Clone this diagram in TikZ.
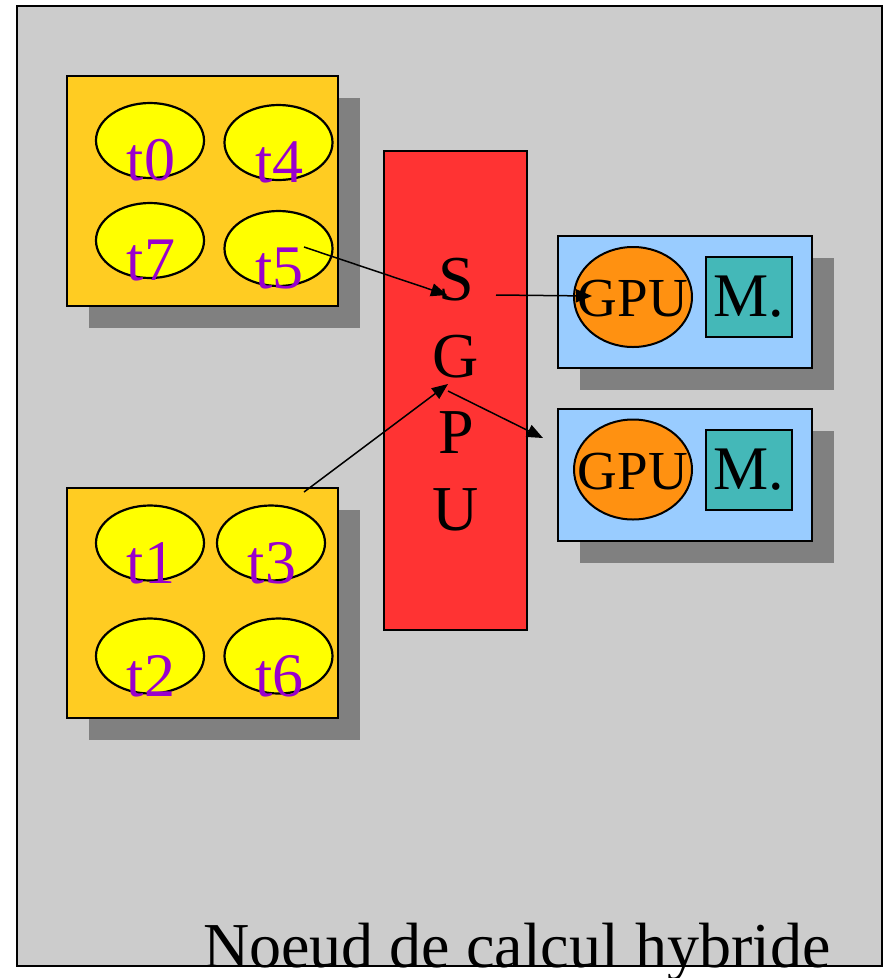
\documentclass[tikz,border=0pt]{standalone}
\usepackage{fontspec}
\setmainfont{Liberation Serif}
\usetikzlibrary{arrows.meta,shapes.geometric,shadows}
\definecolor{silver}{RGB}{204, 204, 204}
\definecolor{asbestos}{RGB}{128, 128, 128}
\definecolor{sunflower}{RGB}{255, 204, 34}
\definecolor{lemon}{RGB}{255, 255, 0}
\definecolor{amethyst}{RGB}{153, 0, 204}
\definecolor{cinnabar}{RGB}{255, 51, 51}
\definecolor{skyblue}{RGB}{153, 204, 255}
\definecolor{carrot}{RGB}{255, 145, 17}
\definecolor{teal}{RGB}{68, 184, 184}

\begin{document}
\begin{tikzpicture}[x=1pt, y=-1pt,
    shadowed/.style={drop shadow={shadow xshift=22pt, shadow yshift=-22pt, fill=asbestos, opacity=1}},
    tbox/.style={draw, line width=2pt, fill=sunflower, inner sep=0pt, minimum width=271pt, minimum height=230pt, shadowed},
    gbox/.style={draw, line width=2pt, fill=skyblue, inner sep=0pt, minimum width=254pt, minimum height=132pt, shadowed},
    thread/.style={draw, ellipse, line width=2.2pt, fill=lemon, inner sep=0pt, minimum width=108pt, minimum height=75pt},
    tlabel/.style={inner sep=0pt, text=amethyst, font=\fontsize{62}{62}\selectfont},
    gpu/.style={draw, ellipse, line width=2pt, fill=carrot, inner sep=0pt, minimum width=118pt, minimum height=100pt},
    glabel/.style={inner sep=0pt, font=\fontsize{55}{55}\selectfont},
    mem/.style={draw, line width=2pt, fill=teal, inner sep=0pt, minimum width=86pt, minimum height=80pt, font=\fontsize{62}{62}\selectfont},
    sletter/.style={inner sep=0pt, font=\fontsize{64}{64}\selectfont},
    link/.style={line width=1.5pt, -{Triangle[length=16pt, width=13pt]}}]
    \useasboundingbox (0,0) rectangle (885,978);

    % node frame
    \filldraw[line width=2.2pt, fill=silver] (17,6) rectangle (882,966);

    % thread blocks
    \node[tbox] (blocA) at (202.5,191) {};
    \node[tbox] (blocB) at (202.5,603) {};
    \foreach \nom/\x/\y in {t0/150/140.5, t4/278.5/142.5, t7/150/240.5, t5/278.5/248.5,
                            t1/150/543, t3/271/543, t2/150/656, t6/278.5/656}
    {
        \node[thread] (\nom) at (\x,\y) {};
        \node[tlabel] (\nom-txt) at (\x+1,\y+20) {\nom};
    }

    % scheduler
    \node[draw, line width=2pt, fill=cinnabar, minimum width=143pt, minimum height=479pt] (sgpu) at (455.5,390.5) {};
    \foreach \lettre/\y [count=\i] in {S/280, G/357, P/433, U/510}
        \node[sletter] (sgpu-\i) at (456,\y) {\lettre};

    % GPU cards
    \foreach \i/\y in {1/302, 2/474.5}
    {
        \node[gbox] (carte\i) at (685,\y) {};
        \node[gpu] (gpu\i) at (633,\y-5) {};
        \node[glabel] (gpu\i-txt) at (633,\y-3) {GPU};
        \node[mem] (mem\i) at (749,\y-5) {M.};
    }

    % arrows
    \coordinate (a0) at (304,247);
    \coordinate (a1) at (447,295);
    \coordinate (b0) at (496,295);
    \coordinate (b1) at (592,296);
    \coordinate (c0) at (304,492);
    \coordinate (c1) at (448,384);
    \coordinate (d0) at (448,391);
    \coordinate (d1) at (543,438);
    \draw[link] (a0) -- (a1);
    \draw[link] (b0) -- (b1);
    \draw[link] (c0) -- (c1);
    \draw[link] (d0) -- (d1);

    \node[anchor=base west, inner sep=0pt, font=\fontsize{64}{64}\selectfont] (titre) at (203,967) {Noeud de calcul hybride};
\end{tikzpicture}
\end{document}
